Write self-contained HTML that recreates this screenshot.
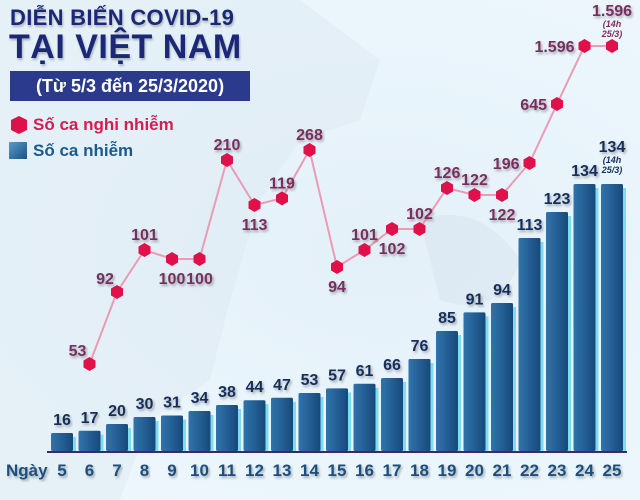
<!DOCTYPE html>
<html><head><meta charset="utf-8"><style>
body{margin:0;width:640px;height:500px;overflow:hidden;font-family:"Liberation Sans",sans-serif;}
#wrap{position:relative;width:640px;height:500px;background:radial-gradient(ellipse at 60% 50%,#e4f0f8 0%,#eaf5fc 60%,#eef8fd 100%);}
.t1{position:absolute;left:10px;top:5px;font-size:22px;font-weight:bold;color:#1b2877;text-shadow:1px 2px 2px rgba(0,0,0,.25);letter-spacing:0.3px}
.t2{position:absolute;left:9px;top:28px;font-size:34px;font-weight:bold;color:#1b2877;text-shadow:1px 2px 2px rgba(0,0,0,.25);letter-spacing:0.5px}
.box{position:absolute;left:10px;top:71px;width:240px;height:30px;background:#2b3a8c;color:#fff;font-size:18px;font-weight:bold;line-height:30px;text-align:center}
.lg{position:absolute;font-size:17px;font-weight:bold}
</style></head><body>
<div id="wrap">
<svg width="640" height="500" style="position:absolute;left:0;top:0">
<path d="M300 0 L380 60 L360 120 L300 140 L260 200 L230 300 L210 380 L150 420 L120 500 L0 500 L0 0Z" fill="#dde9f2" opacity="0.5"/>
<path d="M420 220 Q480 200 520 260 Q500 320 440 300Z" fill="#d5e3ee" opacity="0.5"/>
</svg>
<div class="t1">DIỄN BIẾN COVID-19</div>
<div class="t2">TẠI VIỆT NAM</div>
<div class="box">(Từ 5/3 đến 25/3/2020)</div>
<svg width="20" height="20" style="position:absolute;left:9px;top:115px"><polygon points="10,1 18,5 18,15 10,19 2,15 2,5" fill="#e0104a"/></svg>
<div class="lg" style="left:33px;top:115px;color:#d81b50">Số ca nghi nhiễm</div>
<div style="position:absolute;left:9px;top:142px;width:18px;height:17px;background:linear-gradient(135deg,#5a9bc8,#1a5186)"></div>
<div class="lg" style="left:33px;top:141px;color:#1a5a90">Số ca nhiễm</div>
<svg id="ch" width="640" height="500" style="position:absolute;left:0;top:0">
<defs>
<linearGradient id="bg" x1="0" x2="1"><stop offset="0" stop-color="#2f74ab"/><stop offset="0.5" stop-color="#245f94"/><stop offset="1" stop-color="#17497a"/></linearGradient>
<filter id="sh"><feDropShadow dx="1.5" dy="2" stdDeviation="1.2" flood-color="#000" flood-opacity="0.3"/></filter>
</defs>
</svg>
</div>
<script>
const days=[5,6,7,8,9,10,11,12,13,14,15,16,17,18,19,20,21,22,23,24,25];
const confirmed=[16,17,20,30,31,34,38,44,47,53,57,61,66,76,85,91,94,113,123,134,134];
const suspDays=[6,7,8,9,10,11,12,13,14,15,16,17,18,19,20,21,22,23,24,25];
const suspected=[53,92,101,100,100,210,113,119,268,94,101,102,102,126,122,122,196,645,1596,1596];
const suspLabelSide=['al','al','a','b','b','a','b','a','a','b','a','b','a','a','a','b','l','l','l','a'];
const NS='http://www.w3.org/2000/svg';
const svg=document.getElementById('ch');
const base=451;
function xS(d){return 62+(d-5)*27.5;}
const hKnots=[[0,0],[16,18],[20,27],[30,34],[38,46],[53,58],[66,73],[76,92],[94,148],[113,213],[123,239],[134,267]];
function hS(v){
  for(let i=1;i<hKnots.length;i++){if(v<=hKnots[i][0]){const a=hKnots[i-1],b=hKnots[i];return a[1]+(v-a[0])/(b[0]-a[0])*(b[1]-a[1]);}}
  return hKnots[hKnots.length-1][1];
}
const knots=[[53,364],[92,292],[94,267],[100,259],[101,250],[102,229],[113,205],[122,195],[126,188],[196,163],[210,160],[268,150],[645,104],[1596,46]];
function yS(v){
  if(v<=knots[0][0])return knots[0][1];
  for(let i=1;i<knots.length;i++){if(v<=knots[i][0]){const a=knots[i-1],b=knots[i];return a[1]+(v-a[0])/(b[0]-a[0])*(b[1]-a[1]);}}
  return knots[knots.length-1][1];
}
function fmt(v){return v>=1000?String(v).replace(/(\d)(\d{3})$/,'$1.$2'):String(v);}
function mk(t,a){const e=document.createElementNS(NS,t);for(const k in a)e.setAttribute(k,a[k]);svg.appendChild(e);return e;}
const bl=mk('line',{x1:xS(5)-15,x2:xS(25)+15,y1:base+1,y2:base+1,stroke:'#3a2a6a','stroke-width':2});


days.forEach((d,i)=>{
  const v=confirmed[i],x=xS(d),h=hS(v);
  const g=mk('rect',{x:x-9,y:base-h+4,width:23,height:h-4,fill:'#7fdcef'});
  
  
  const r=mk('rect',{x:x-11,y:base-h,width:22,height:h,fill:'url(#bg)',rx:1.5});
  
  
  const last=i===days.length-1;
  const t=mk('text',{x:x,y:base-h-(last?32:8),'text-anchor':'middle','font-size':16,'font-weight':'bold',fill:'#152f5b',filter:'url(#sh)'});
  t.textContent=v;
  
  
  if(last){
    const n=mk('text',{x:x,y:base-h-21,'text-anchor':'middle','font-size':9,'font-weight':'bold','font-style':'italic',fill:'#152f5b'});n.textContent='(14h';
    
    
    const n2=mk('text',{x:x,y:base-h-11,'text-anchor':'middle','font-size':9,'font-weight':'bold','font-style':'italic',fill:'#152f5b'});n2.textContent='25/3)';
    
    
  }
  const xl=mk('text',{x:x,y:476,'text-anchor':'middle','font-size':17,'font-weight':'bold',fill:'#1d4f7e',filter:'url(#sh)'});
  xl.textContent=d;
  
  
});
const ng=mk('text',{x:6,y:476,'font-size':17,'font-weight':'bold',fill:'#1d4f7e',filter:'url(#sh)'});
ng.textContent='Ngày';


const pts=suspDays.map((d,i)=>xS(d)+','+yS(suspected[i])).join(' ');
const pl=mk('polyline',{points:pts,fill:'none',stroke:'#eb9bb4','stroke-width':2});


suspDays.forEach((d,i)=>{
  const v=suspected[i],x=xS(d),y=yS(v);
  const hp=[[0,-7],[6,-3.5],[6,3.5],[0,7],[-6,3.5],[-6,-3.5]].map(p=>(x+p[0])+','+(y+p[1])).join(' ');
  const p=mk('polygon',{points:hp,fill:'#e0104a'});
  
  
  const s=suspLabelSide[i];let lx=x,ly=y,an='middle';
  if(s==='a'){ly=y-10;}
  else if(s==='b'){ly=y+25;}
  else if(s==='l'){lx=x-10;ly=y+6;an='end';}
  else if(s==='al'){lx=x-12;ly=y-8;}
  const last=i===suspDays.length-1;
  if(last)ly=y-30;
  const t=mk('text',{x:lx,y:ly,'text-anchor':an,'font-size':16,'font-weight':'bold',fill:'#7a2e5e',filter:'url(#sh)'});
  t.textContent=fmt(v);
  
  
  if(last){
    const n=mk('text',{x:x,y:y-19,'text-anchor':'middle','font-size':9,'font-weight':'bold','font-style':'italic',fill:'#7a2e5e'});n.textContent='(14h';
    
    
    const n2=mk('text',{x:x,y:y-9,'text-anchor':'middle','font-size':9,'font-weight':'bold','font-style':'italic',fill:'#7a2e5e'});n2.textContent='25/3)';
    
    
  }
});
</script>
</body></html>
